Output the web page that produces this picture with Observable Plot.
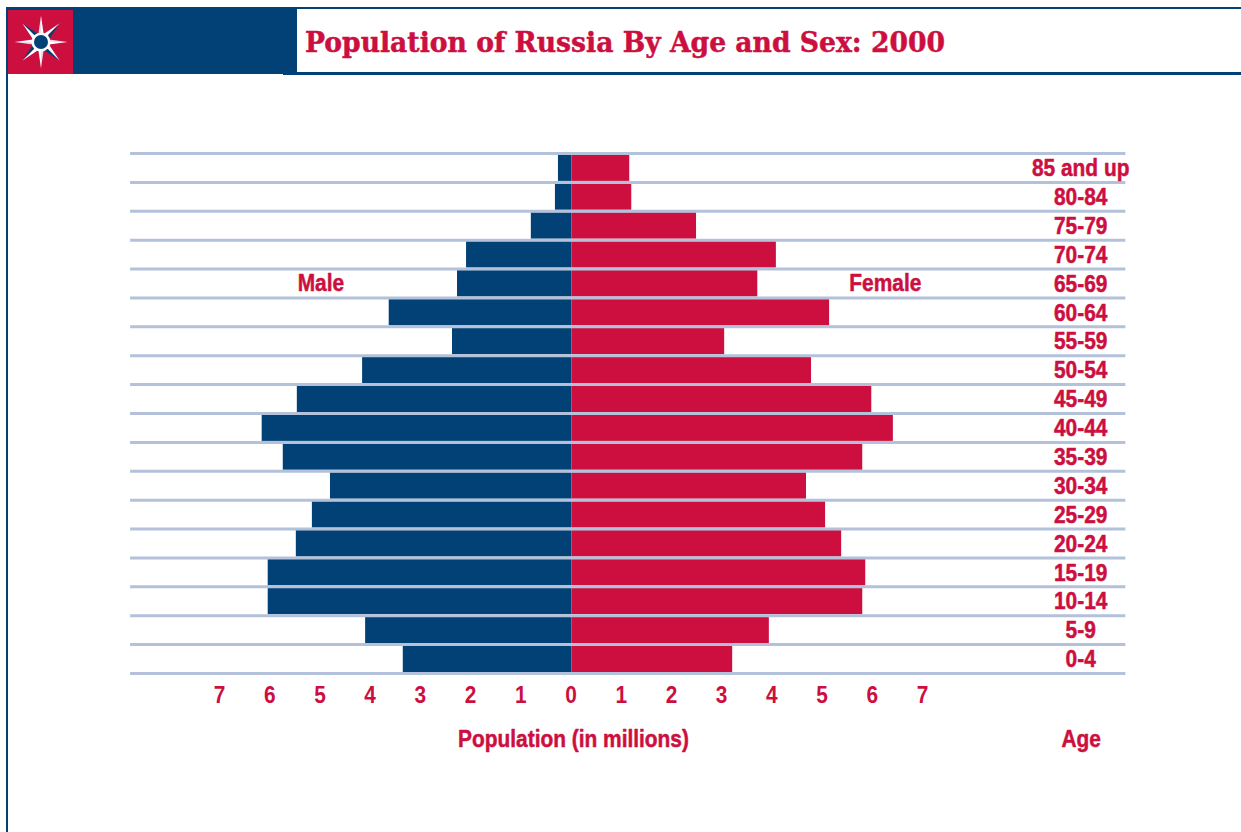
<!DOCTYPE html>
<html><head><meta charset="utf-8">
<script src="https://cdn.jsdelivr.net/npm/d3@7"></script>
<script src="https://cdn.jsdelivr.net/npm/@observablehq/plot@0.6"></script>
<style>
html,body{margin:0;padding:0;background:#fff;overflow:hidden}
#page{position:relative;width:1241px;height:832px;overflow:hidden}
.abs{position:absolute}
#title{left:305px;top:26px;font:bold 28px "DejaVu Serif",serif;color:#cc0f3f;white-space:nowrap;transform-origin:0 0;-webkit-text-stroke:.5px #cc0f3f}
#chart{position:absolute;left:0;top:0}
</style></head><body>
<div id="page">
<div class="abs" style="left:6px;top:7px;width:1235px;height:2px;background:#024175"></div>
<div class="abs" style="left:6px;top:7px;width:2px;height:825px;background:#024175"></div>
<div class="abs" style="left:8px;top:9px;width:289px;height:65px;background:#024175"></div>
<div class="abs" style="left:283px;top:72px;width:958px;height:3px;background:#024175"></div>
<div class="abs" style="left:297px;top:9px;width:944px;height:63px;background:#fff"></div>
<svg class="abs" style="left:8px;top:10px" width="65" height="64" viewBox="0 0 65 64">
<rect width="65" height="64" fill="#cc0f3f"/>
<g transform="translate(33,32)">
<g id="pts"></g>
<circle r="9.5" fill="#fff"/><circle r="7" fill="#024175"/>
</g></svg>
<div id="title" class="abs">Population of Russia By Age and Sex: 2000</div>
<div id="chart"></div>
</div>
<script>
const ages = ["0-4","5-9","10-14","15-19","20-24","25-29","30-34","35-39","40-44","45-49","50-54","55-59","60-64","65-69","70-74","75-79","80-84","85 and up"];
const male = [3.36,4.11,6.05,6.05,5.49,5.17,4.81,5.75,6.17,5.47,4.17,2.38,3.64,2.28,2.10,0.81,0.33,0.27];
const female = [3.20,3.93,5.79,5.85,5.37,5.05,4.67,5.79,6.40,5.97,4.77,3.04,5.13,3.70,4.07,2.48,1.19,1.15];
const xTicks = [-7,-6,-5,-4,-3,-2,-1,0,1,2,3,4,5,6,7];
const sideLabels = [{t:"Male",x:-5,i:13.5},{t:"Female",x:6.24,i:13.5}];
const axisTitles = [{t:"Population (in millions)",x:0.03},{t:"Age",x:10.14}];
const red="#cc0f3f", navy="#024175", line="#b3c1da";
const font='"Liberation Sans",sans-serif';

// logo star
const g=document.getElementById("pts");
let s="";
for(let k=0;k<8;k++){const a=k*45, L=26.5, w=k%2?3.6:2.6;
 s+=`<g transform="rotate(${a})"><polygon points="0,${-L} ${w},-8 0,-8" fill="${k%2?'#024175':'#fff'}"/><polygon points="0,${-L} ${-w},-8 0,-8" fill="${k%2?'#fff':'#e9dfe6'}"/></g>`;}
g.innerHTML=s;

const labelStyle = {fill:red,stroke:red,strokeWidth:0.5,fontSize:24,fontWeight:"bold"};
const idx = d3.range(ages.length);
const bounds = d3.range(ages.length+1);
const chart = Plot.plot({
  width:1241,height:832,
  marginTop:153,marginBottom:159,marginLeft:220,marginRight:318,
  x:{domain:[-7,7]},
  y:{domain:[0,18]},
  style:{background:"transparent",fontFamily:font},
  marks:[
    Plot.rect(idx,{x1:i=>-male[i],x2:()=>0,y1:i=>i,y2:i=>i+1,fill:navy,insetTop:1.5,insetBottom:1}),
    Plot.rect(idx,{x1:()=>0,x2:i=>female[i],y1:i=>i,y2:i=>i+1,fill:red,insetTop:1.5,insetBottom:1}),
    Plot.ruleY(bounds,{x1:()=>-8.79,x2:()=>11.03,stroke:line,strokeWidth:3}),
    Plot.axisX({ticks:xTicks,tickSize:0,tickPadding:12,dx:-1,label:null,tickFormat:d=>Math.abs(d),...labelStyle}),
    Plot.axisY({ticks:[],label:null}),
    Plot.text(idx,{x:()=>10.13,y:i=>i+0.5,dy:0.5,text:i=>ages[i],...labelStyle}),
    Plot.text(sideLabels,{x:"x",y:"i",text:"t",...labelStyle}),
    Plot.text(axisTitles,{x:"x",y:()=>-2.29,text:"t",...labelStyle})
  ]
});
document.getElementById("chart").appendChild(chart);
// condense the labels: no narrow face is installed, so fit the real text to a narrower length
chart.querySelectorAll("text").forEach(t=>{
  const n=t.getComputedTextLength();
  t.setAttribute("textLength",(n*0.87).toFixed(1));
  t.setAttribute("lengthAdjust","spacingAndGlyphs");
});
const ti=document.getElementById("title");
ti.style.transform=`scaleX(${640/ti.getBoundingClientRect().width})`;
</script>
</body></html>
